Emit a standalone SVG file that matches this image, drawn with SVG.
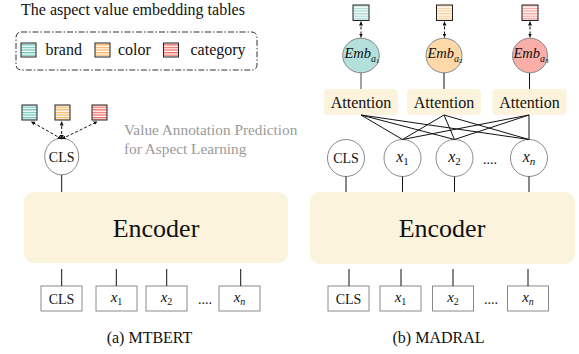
<svg xmlns="http://www.w3.org/2000/svg" width="579" height="354" viewBox="0 0 579 354" font-family="'Liberation Serif', 'DejaVu Serif', serif">
<style>
  text { font-family: 'Liberation Serif', 'DejaVu Serif', serif; fill: #111; }
  .lbl { font-size: 16px; }
  .tok { font-size: 14px; text-anchor: middle; }
  .mi { font-style: italic; }
  .enc { fill: #fcf3dd; stroke: none; }
  .box { fill: #fff; stroke: #8a8a8a; stroke-width: 1; }
  .circ { fill: #fff; stroke: #8a8a8a; stroke-width: 1; }
  .sq { stroke: #222; stroke-width: 1; }
  .ln { stroke: #111; stroke-width: 1; fill: none; }
  .dash { stroke: #111; stroke-width: 1; fill: none; stroke-dasharray: 3 2; marker-start: url(#ah); marker-end: url(#ah); }
  .gray { fill: #9a9a9a; font-size: 15.3px; }
</style>
<defs>
  <marker id="ah" viewBox="0 0 6 6" refX="6" refY="3" markerWidth="4" markerHeight="4" orient="auto-start-reverse">
    <path d="M0,0 L6,3 L0,6 z" fill="#111"/>
  </marker>
  <pattern id="pb" width="4" height="2.6" patternUnits="userSpaceOnUse"><rect width="4" height="2.6" fill="#fff"/><rect width="4" height="1.3" fill="#6fc6b8"/></pattern>
  <pattern id="po" width="4" height="2.6" patternUnits="userSpaceOnUse"><rect width="4" height="2.6" fill="#fff"/><rect width="4" height="1.3" fill="#fbb45c"/></pattern>
  <pattern id="pr" width="4" height="2.6" patternUnits="userSpaceOnUse"><rect width="4" height="2.6" fill="#fff"/><rect width="4" height="1.3" fill="#f26a62"/></pattern>
  <pattern id="pb2" width="4" height="2.6" patternUnits="userSpaceOnUse"><rect width="4" height="2.6" fill="#fff"/><rect width="4" height="1.3" fill="#a6dcd2"/></pattern>
  <pattern id="po2" width="4" height="2.6" patternUnits="userSpaceOnUse"><rect width="4" height="2.6" fill="#fff"/><rect width="4" height="1.3" fill="#fdcd94"/></pattern>
  <pattern id="pr2" width="4" height="2.6" patternUnits="userSpaceOnUse"><rect width="4" height="2.6" fill="#fff"/><rect width="4" height="1.3" fill="#fa9f99"/></pattern>
</defs>

<!-- Legend -->
<g id="legend">
  <text x="21" y="15" class="lbl" font-size="15.8">The aspect value embedding tables</text>
  <rect x="16" y="32" width="241" height="38" rx="5" fill="none" stroke="#333" stroke-width="1" stroke-dasharray="6 2 1.5 2"/>
  <rect x="21" y="43" width="15" height="14" fill="url(#pb)" class="sq"/>
  <text x="45.5" y="55" class="lbl" font-size="15.8">brand</text>
  <rect x="95" y="43" width="15" height="14" fill="url(#po)" class="sq"/>
  <text x="118" y="55" class="lbl" font-size="15.8">color</text>
  <rect x="163.5" y="43" width="15" height="14" fill="url(#pr)" class="sq"/>
  <text x="190.5" y="55" class="lbl" font-size="15.8">category</text>
</g>

<!-- Left panel: MTBERT -->
<g id="a-sq-brand"><rect x="22" y="105" width="15" height="15" fill="url(#pb)" class="sq"/></g>
<g id="a-sq-color"><rect x="55" y="105" width="15" height="15" fill="url(#po)" class="sq"/></g>
<g id="a-sq-category"><rect x="92" y="105" width="15" height="15" fill="url(#pr)" class="sq"/></g>
<g id="a-cls"><ellipse cx="61.7" cy="156.5" rx="17" ry="18.3" class="circ"/><text x="61.7" y="161.5" class="tok">CLS</text></g>
<g id="a-note">
  <text x="124" y="135" class="gray">Value Annotation Prediction</text>
  <text x="124" y="154" class="gray">for Aspect Learning</text>
</g>
<g id="a-encoder"><rect x="24" y="192" width="264" height="71" rx="10" class="enc"/><text x="156" y="237" font-size="26" text-anchor="middle">Encoder</text></g>
<g id="a-t-cls"><rect x="41" y="286" width="41" height="25" class="box"/><text x="61.5" y="303.5" class="tok">CLS</text></g>
<g id="a-t-x1"><rect x="96" y="286" width="41" height="25" class="box"/><text x="116.5" y="302" class="tok"><tspan class="mi" font-size="15">x</tspan><tspan font-size="10" dy="3">1</tspan></text></g>
<g id="a-t-x2"><rect x="146" y="286" width="41" height="25" class="box"/><text x="166.5" y="302" class="tok"><tspan class="mi" font-size="15">x</tspan><tspan font-size="10" dy="3">2</tspan></text></g>
<g id="a-dots"><text x="205" y="304" class="tok">....</text></g>
<g id="a-t-xn"><rect x="219" y="286" width="41" height="25" class="box"/><text x="239.5" y="302" class="tok"><tspan class="mi" font-size="15">x</tspan><tspan class="mi" font-size="10" dy="3">n</tspan></text></g>
<g id="a-caption"><text x="149.5" y="343" class="lbl" text-anchor="middle">(a) MTBERT</text></g>

<!-- Right panel: MADRAL -->
<g id="b-sq-1"><rect x="353" y="5" width="16" height="15.5" fill="url(#pb2)" class="sq"/></g>
<g id="b-sq-2"><rect x="436.5" y="5" width="16" height="15.5" fill="url(#po2)" class="sq"/></g>
<g id="b-sq-3"><rect x="522" y="5" width="16" height="15.5" fill="url(#pr2)" class="sq"/></g>
<g id="b-emb1"><ellipse cx="361" cy="55.5" rx="18.3" ry="17.3" fill="#b3e0da" stroke="#888"/><text x="362" y="58" text-anchor="middle"><tspan class="mi" font-size="14.5">Emb</tspan><tspan class="mi" font-size="10" dy="3.5">a</tspan><tspan font-size="7" dy="1.5">1</tspan></text></g>
<g id="b-emb2"><ellipse cx="444" cy="55.5" rx="18" ry="17.3" fill="#fed8a9" stroke="#888"/><text x="445" y="58" text-anchor="middle"><tspan class="mi" font-size="14.5">Emb</tspan><tspan class="mi" font-size="10" dy="3.5">a</tspan><tspan font-size="7" dy="1.5">2</tspan></text></g>
<g id="b-emb3"><ellipse cx="530" cy="55.5" rx="17.5" ry="17.3" fill="#f9aea7" stroke="#888"/><text x="531" y="58" text-anchor="middle"><tspan class="mi" font-size="14.5">Emb</tspan><tspan class="mi" font-size="10" dy="3.5">a</tspan><tspan font-size="7" dy="1.5">3</tspan></text></g>
<g id="b-att1"><rect x="324" y="89" width="74" height="26" rx="4" class="enc"/><text x="361" y="108.3" class="lbl" font-size="15.5" text-anchor="middle">Attention</text></g>
<g id="b-att2"><rect x="407" y="89" width="74" height="26" rx="4" class="enc"/><text x="444" y="108.3" class="lbl" font-size="15.5" text-anchor="middle">Attention</text></g>
<g id="b-att3"><rect x="492.5" y="89" width="74" height="26" rx="4" class="enc"/><text x="529.5" y="108.3" class="lbl" font-size="15.5" text-anchor="middle">Attention</text></g>
<g id="b-cls"><circle cx="346" cy="158" r="18.5" class="circ"/><text x="346" y="163" class="tok">CLS</text></g>
<g id="b-x1"><circle cx="402.5" cy="158" r="18.5" class="circ"/><text x="402.5" y="162" class="tok"><tspan class="mi" font-size="16">x</tspan><tspan font-size="11" dy="3">1</tspan></text></g>
<g id="b-x2"><circle cx="454.5" cy="158" r="18.5" class="circ"/><text x="454.5" y="162" class="tok"><tspan class="mi" font-size="16">x</tspan><tspan font-size="11" dy="3">2</tspan></text></g>
<g id="b-dots"><text x="490" y="164" class="tok">....</text></g>
<g id="b-xn"><circle cx="529" cy="158" r="18.5" class="circ"/><text x="529" y="162" class="tok"><tspan class="mi" font-size="16">x</tspan><tspan class="mi" font-size="11" dy="3">n</tspan></text></g>
<g id="b-encoder"><rect x="310" y="192" width="265" height="72" rx="10" class="enc"/><text x="442" y="237" font-size="26" text-anchor="middle">Encoder</text></g>
<g id="b-t-cls"><rect x="328" y="286" width="41" height="25" class="box"/><text x="348.5" y="303.5" class="tok">CLS</text></g>
<g id="b-t-x1"><rect x="380" y="286" width="41" height="25" class="box"/><text x="400.5" y="302" class="tok"><tspan class="mi" font-size="15">x</tspan><tspan font-size="10" dy="3">1</tspan></text></g>
<g id="b-t-x2"><rect x="432.5" y="286" width="41" height="25" class="box"/><text x="453" y="302" class="tok"><tspan class="mi" font-size="15">x</tspan><tspan font-size="10" dy="3">2</tspan></text></g>
<g id="b-t-dots"><text x="491" y="304" class="tok">....</text></g>
<g id="b-t-xn"><rect x="507.5" y="286" width="41" height="25" class="box"/><text x="528" y="302" class="tok"><tspan class="mi" font-size="15">x</tspan><tspan class="mi" font-size="10" dy="3">n</tspan></text></g>
<g id="b-caption"><text x="438.5" y="343" class="lbl" text-anchor="middle">(b) MADRAL</text></g>

<!-- Connectors -->
<g id="connectors">
  <line x1="61.7" y1="139" x2="31" y2="121.5" class="dash"/>
  <line x1="61.7" y1="139" x2="61.7" y2="121.5" class="dash"/>
  <line x1="61.7" y1="139" x2="97.5" y2="121.5" class="dash"/>
  <line x1="61.7" y1="175" x2="61.7" y2="192" class="ln"/>
  <line x1="61.7" y1="269" x2="61.7" y2="286" class="ln"/>
  <line x1="116.3" y1="269" x2="116.3" y2="286" class="ln"/>
  <line x1="166.7" y1="269" x2="166.7" y2="286" class="ln"/>
  <line x1="240.7" y1="269" x2="240.7" y2="286" class="ln"/>

  <line x1="361" y1="21.5" x2="361" y2="37.5" class="dash"/>
  <line x1="444.5" y1="21.5" x2="444.5" y2="37.5" class="dash"/>
  <line x1="530" y1="21.5" x2="530" y2="37.5" class="dash"/>
  <line x1="361" y1="73" x2="361" y2="89" stroke="#666" stroke-width="1.2"/>
  <line x1="444" y1="73" x2="444" y2="89" class="ln"/>
  <line x1="529.5" y1="73" x2="529.5" y2="89" class="ln"/>

  <path d="M361,115 L402.5,139.5 M361,115 L454.5,139.5 M361,115 L529,139.5" class="ln"/>
  <path d="M444,115 L402.5,139.5 M444,115 L454.5,139.5 M444,115 L529,139.5" class="ln"/>
  <path d="M529,115 L402.5,139.5 M529,115 L454.5,139.5 M529,115 L529,139.5" class="ln"/>

  <line x1="346" y1="176.5" x2="346" y2="192" class="ln"/>
  <line x1="402.5" y1="176.5" x2="402.5" y2="192" class="ln"/>
  <line x1="454.5" y1="176.5" x2="454.5" y2="192" class="ln"/>
  <line x1="529" y1="176.5" x2="529" y2="192" class="ln"/>
  <line x1="349" y1="269" x2="349" y2="286" class="ln"/>
  <line x1="401" y1="269" x2="401" y2="286" class="ln"/>
  <line x1="453" y1="269" x2="453" y2="286" class="ln"/>
  <line x1="528" y1="269" x2="528" y2="286" class="ln"/>
</g>
</svg>
